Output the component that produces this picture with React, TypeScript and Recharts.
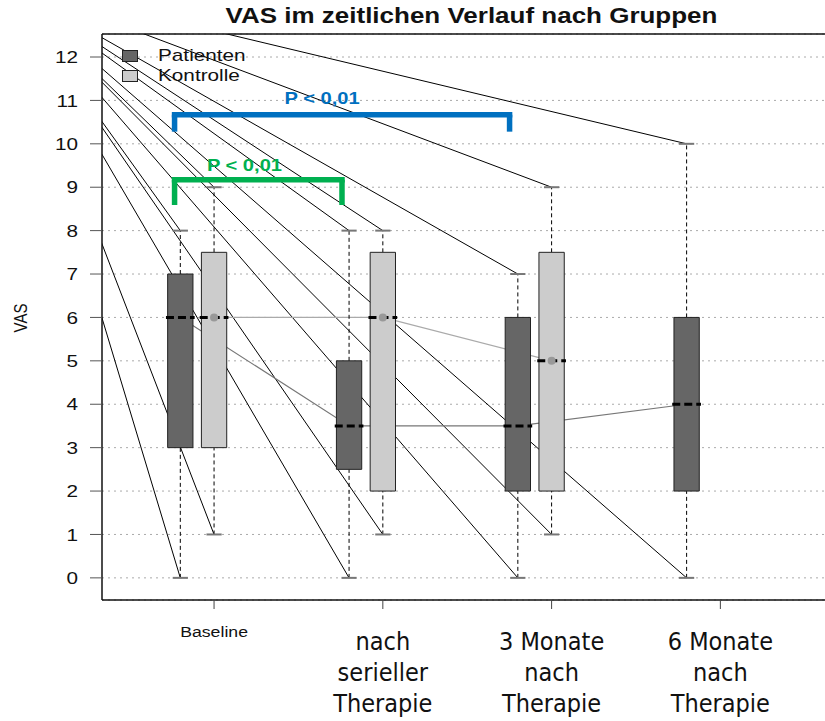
import {
  ComposedChart,
  XAxis,
  YAxis,
  CartesianGrid,
  ReferenceLine,
  ReferenceArea,
  ReferenceDot,
  Line,
} from "recharts";

// time points (x positions of the Kontrolle boxes / axis ticks)
const timepoints = [1, 2, 3, 4];
const timeLabels = [
  ["Baseline"],
  ["nach", "serieller", "Therapie"],
  ["3 Monate", "nach", "Therapie"],
  ["6 Monate", "nach", "Therapie"],
];
const groups = ["Patienten", "Kontrolle"];
const yTicks = [0, 1, 2, 3, 4, 5, 6, 7, 8, 9, 10, 11, 12];

// Patienten
const patMin = [0, 0, 0, 0];
const patQ1 = [3, 2.5, 2, 2];
const patMed = [6, 3.5, 3.5, 4];
const patQ3 = [7, 5, 6, 6];
const patMax = [8, 8, 7, 10];

// Kontrolle (no 6-month value)
const konMin = [1, 1, 1];
const konQ1 = [3, 2, 2];
const konMed = [6, 6, 5];
const konQ3 = [7.5, 7.5, 7.5];
const konMax = [9, 8, 9];

// significance brackets
const brackets = [
  { from: 0.766, to: 2.751, y: 10.67, foot: 10.28, color: "#0070C0", label: "P < 0,01", labelX: 1.64, labelY: 11.06 },
  { from: 0.766, to: 1.758, y: 9.17, foot: 8.59, color: "#00B050", label: "P < 0,01", labelX: 1.18, labelY: 9.52 },
];

// the stray lines in the original all run from one point up-left, outside the plot
const RAY_ORIGIN = { x: -0.268, y: 13.78 };

const DARK = "#666666";
const LIGHT = "#cccccc";
const PAT_OFFSET = -0.2;
const BOX_HALF = 0.075;
const CAP_HALF = 0.045;
const MED_HALF = 0.085;
const STRETCH = 1.22; // the original text is drawn wider than the font
const FONT = '"Liberation Sans", Arial, Helvetica, sans-serif';
const NARROW = '"DejaVu Sans Condensed", "Liberation Sans Narrow", "Open Sans", sans-serif';

const boxes = [
  ...patMed.map((m, i) => ({
    x: timepoints[i] + PAT_OFFSET, min: patMin[i], q1: patQ1[i], med: m, q3: patQ3[i], max: patMax[i], fill: DARK, dot: false,
  })),
  ...konMed.map((m, i) => ({
    x: timepoints[i], min: konMin[i], q1: konQ1[i], med: m, q3: konQ3[i], max: konMax[i], fill: LIGHT, dot: true,
  })),
];

const patLine = patMed.map((m, i) => ({ x: timepoints[i] + PAT_OFFSET, y: m }));
const konLine = konMed.map((m, i) => ({ x: timepoints[i], y: m }));

const XTick = ({ x, y, payload }: any) => {
  const lines = timeLabels[timepoints.indexOf(payload.value)] || [];
  if (lines.length === 1) {
    return (
      <text transform={`translate(${x},${y + 28}) scale(${STRETCH},1)`} textAnchor="middle" fontFamily={FONT} fontSize={14.5} fill="#111">
        {lines[0]}
      </text>
    );
  }
  return (
    <text textAnchor="middle" fontFamily={NARROW} fontSize={25} fill="#111">
      {lines.map((l, i) => (
        <tspan key={i} x={x} y={y + 41 + i * 31}>
          {l}
        </tspan>
      ))}
    </text>
  );
};

const YTick = ({ x, y, payload }: any) => (
  <text transform={`translate(${x},${y}) scale(${STRETCH},1)`} textAnchor="end" dy="0.36em" fontFamily={FONT} fontSize={17} fill="#111">
    {payload.value}
  </text>
);

const BracketLabel = ({ viewBox, value, color }: any) => {
  const cx = viewBox.x + viewBox.width / 2;
  const cy = viewBox.y + viewBox.height / 2;
  return (
    <text transform={`translate(${cx},${cy}) scale(${STRETCH},1)`} textAnchor="middle" dy="0.36em"
      fontFamily={FONT} fontSize={16.5} fontWeight="bold" fill={color}>
      {value}
    </text>
  );
};

export default function App() {
  return (
    <div style={{ position: "absolute", left: 0, top: 0, width: 825, height: 721, background: "#fff", fontFamily: FONT }}>
      <div
        style={{
          position: "absolute", left: 0, width: 943, top: 4, textAlign: "center",
          fontWeight: "bold", fontSize: 21.3, color: "#111", transform: `scaleX(${STRETCH})`,
        }}
      >
        VAS im zeitlichen Verlauf nach Gruppen
      </div>
      <div
        style={{
          position: "absolute", left: 20, top: 318,
          transform: `translate(-50%, -50%) rotate(-90deg) scaleY(${STRETCH})`,
          fontSize: 15, color: "#111", whiteSpace: "nowrap",
        }}
      >
        VAS
      </div>

      <ComposedChart width={825} height={721} margin={{ top: 34, right: 0, bottom: 0, left: 0 }}>
        <CartesianGrid horizontal vertical={false} stroke="#aaa" strokeDasharray="2 4" />
        <XAxis
          type="number" dataKey="x" domain={[0.336, 4.62]} allowDataOverflow ticks={timepoints}
          height={121} tickSize={9} tickMargin={0} tick={<XTick />}
          axisLine={{ stroke: "#111", strokeWidth: 1.5 }} tickLine={{ stroke: "#444" }}
        />
        <YAxis
          type="number" domain={[-0.51, 12.53]} allowDataOverflow ticks={yTicks} interval={0}
          width={102} tickSize={12} tickMargin={12} tick={<YTick />}
          axisLine={{ stroke: "#111", strokeWidth: 1.5 }} tickLine={{ stroke: "#555" }}
        />
        <ReferenceLine y={12.53} stroke="#111" strokeWidth={1.5} ifOverflow="visible" />

        {/* stray rays to every whisker end */}
        {boxes.flatMap((b, i) =>
          [b.min, b.max].map((v, j) => (
            <ReferenceLine
              key={`ray${i}-${j}`} zIndex={10}
              segment={[RAY_ORIGIN, { x: b.x, y: v }]}
              stroke="#000" strokeWidth={1} ifOverflow="hidden"
            />
          ))
        )}

        <Line data={patLine} dataKey="y" stroke="#777" strokeWidth={1.2} dot={false} isAnimationActive={false} zIndex={20} />
        <Line data={konLine} dataKey="y" stroke="#aaa" strokeWidth={1.2} dot={false} isAnimationActive={false} zIndex={20} />

        {/* whiskers and caps */}
        {boxes.map((b, i) => (
          <ReferenceLine key={`wl${i}`} zIndex={30} segment={[{ x: b.x, y: b.min }, { x: b.x, y: b.q1 }]}
            stroke="#000" strokeDasharray="4 3" ifOverflow="visible" />
        ))}
        {boxes.map((b, i) => (
          <ReferenceLine key={`wh${i}`} zIndex={30} segment={[{ x: b.x, y: b.q3 }, { x: b.x, y: b.max }]}
            stroke="#000" strokeDasharray="4 3" ifOverflow="visible" />
        ))}
        {boxes.flatMap((b, i) =>
          [b.min, b.max].map((v, j) => (
            <ReferenceLine key={`cap${i}-${j}`} zIndex={30}
              segment={[{ x: b.x - CAP_HALF, y: v }, { x: b.x + CAP_HALF, y: v }]}
              stroke="#777" strokeWidth={2} ifOverflow="visible" />
          ))
        )}

        {/* boxes */}
        {boxes.map((b, i) => (
          <ReferenceArea key={`box${i}`} zIndex={40}
            x1={b.x - BOX_HALF} x2={b.x + BOX_HALF} y1={b.q1} y2={b.q3}
            fill={b.fill} fillOpacity={1} stroke="#222" strokeWidth={1} ifOverflow="visible" />
        ))}

        {/* medians */}
        {boxes.map((b, i) => (
          <ReferenceLine key={`med${i}`} zIndex={50}
            segment={[{ x: b.x - MED_HALF, y: b.med }, { x: b.x + MED_HALF, y: b.med }]}
            stroke="#000" strokeWidth={3} strokeDasharray="8 4" ifOverflow="visible" />
        ))}
        {boxes.filter((b) => b.dot).map((b, i) => (
          <ReferenceDot key={`dot${i}`} zIndex={60} x={b.x} y={b.med} r={4} fill="#999" stroke="none" ifOverflow="visible" />
        ))}

        {/* significance brackets */}
        {brackets.flatMap((br, i) => [
          <ReferenceLine key={`bh${i}`} zIndex={70} segment={[{ x: br.from, y: br.y }, { x: br.to, y: br.y }]}
            stroke={br.color} strokeWidth={5.5} strokeLinecap="square" ifOverflow="visible" />,
          <ReferenceLine key={`bl${i}`} zIndex={70} segment={[{ x: br.from, y: br.y }, { x: br.from, y: br.foot }]}
            stroke={br.color} strokeWidth={5.5} ifOverflow="visible" />,
          <ReferenceLine key={`br${i}`} zIndex={70} segment={[{ x: br.to, y: br.y }, { x: br.to, y: br.foot }]}
            stroke={br.color} strokeWidth={5.5} ifOverflow="visible" />,
          <ReferenceDot key={`bt${i}`} zIndex={70} x={br.labelX} y={br.labelY} r={0} ifOverflow="visible"
            label={<BracketLabel value={br.label} color={br.color} />} />,
        ])}
      </ComposedChart>

      {/* legend */}
      <div style={{ position: "absolute", left: 122, top: 46, fontSize: 17, color: "#111", lineHeight: "20px" }}>
        {groups.map((g, i) => (
          <div key={g} style={{ display: "flex", alignItems: "center", height: 20 }}>
            <span style={{ display: "inline-block", width: 14, height: 10, background: i === 0 ? DARK : LIGHT, border: "1px solid #222", marginRight: 20 }} />
            <span style={{ display: "inline-block", transform: `scaleX(${STRETCH})`, transformOrigin: "left center" }}>{g}</span>
          </div>
        ))}
      </div>
    </div>
  );
}
